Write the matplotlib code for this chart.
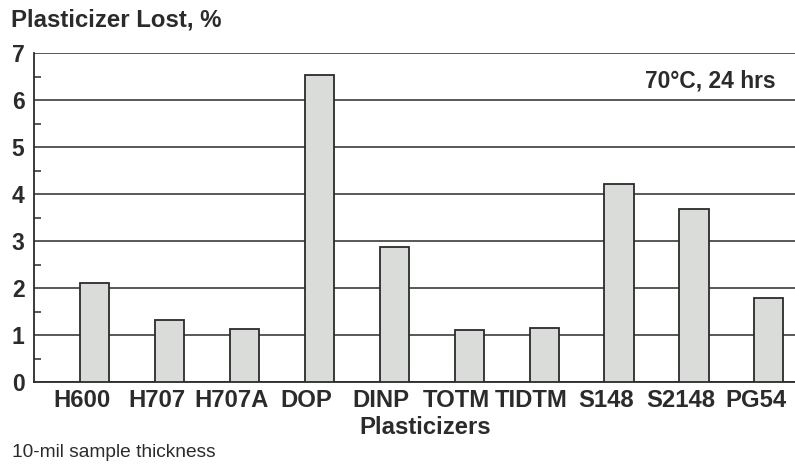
import matplotlib.pyplot as plt
import matplotlib.transforms as mtransforms
import numpy as np
from matplotlib.ticker import MultipleLocator

plt.rcParams['font.family'] = ['Liberation Sans', 'DejaVu Sans']

# data
plasticizers = ["H600", "H707", "H707A", "DOP", "DINP", "TOTM", "TIDTM", "S148", "S2148", "PG54"]
lost_pct = [2.1, 1.32, 1.13, 6.53, 2.87, 1.11, 1.15, 4.21, 3.68, 1.79]

ink = '#2b2b2b'

fig = plt.figure(figsize=(7.95, 4.66), dpi=100)
ax = fig.add_axes([0.043, 0.180, 0.957, 0.706])

x = np.arange(len(plasticizers))
ax.set_axisbelow(True)
ax.yaxis.grid(True, which='major', color=ink, linewidth=1.1)
ax.bar(x, lost_pct, width=0.39, color='#d9dcd9', edgecolor=ink, linewidth=1.3, zorder=3)

ax.set_ylim(0, 7)
ax.set_xlim(-0.81, 9.35)
ax.yaxis.set_major_locator(MultipleLocator(1))
ax.yaxis.set_minor_locator(MultipleLocator(0.5))
ax.tick_params(axis='y', which='major', length=0, pad=7, labelsize=16.5, labelcolor=ink)
ax.tick_params(axis='y', which='minor', direction='in', length=5, color=ink, width=1.1)
ax.set_xticks(x)
ax.set_xticklabels(plasticizers, fontweight='bold')
ax.tick_params(axis='x', length=0, pad=5, labelsize=17.2, labelcolor=ink)
for lbl in ax.get_yticklabels():
    lbl.set_fontweight('bold')
# labels in the original sit a bit left of their bars
shift = mtransforms.ScaledTranslation(-0.13, 0, fig.dpi_scale_trans)
for lbl in ax.get_xticklabels():
    lbl.set_transform(lbl.get_transform() + shift)

for side in ['top', 'right']:
    ax.spines[side].set_visible(False)
for side in ['left', 'bottom']:
    ax.spines[side].set_color(ink)
    ax.spines[side].set_linewidth(1.3)

ax.set_xlabel("Plasticizers", fontsize=17.2, fontweight='bold', color=ink)
ax.xaxis.set_label_coords(0.514, -0.104)

fig.text(0.014, 0.957, "Plasticizer Lost, %", fontsize=17.3, fontweight='bold', color=ink, va='center')
ax.text(0.975, 0.915, "70\u00b0C, 24 hrs", transform=ax.transAxes, ha='right', va='center',
        fontsize=16.4, fontweight='bold', color=ink)
fig.text(0.015, 0.030, "10-mil sample thickness", fontsize=13.8, color=ink, va='center')

fig.savefig('out.png', dpi=100)
